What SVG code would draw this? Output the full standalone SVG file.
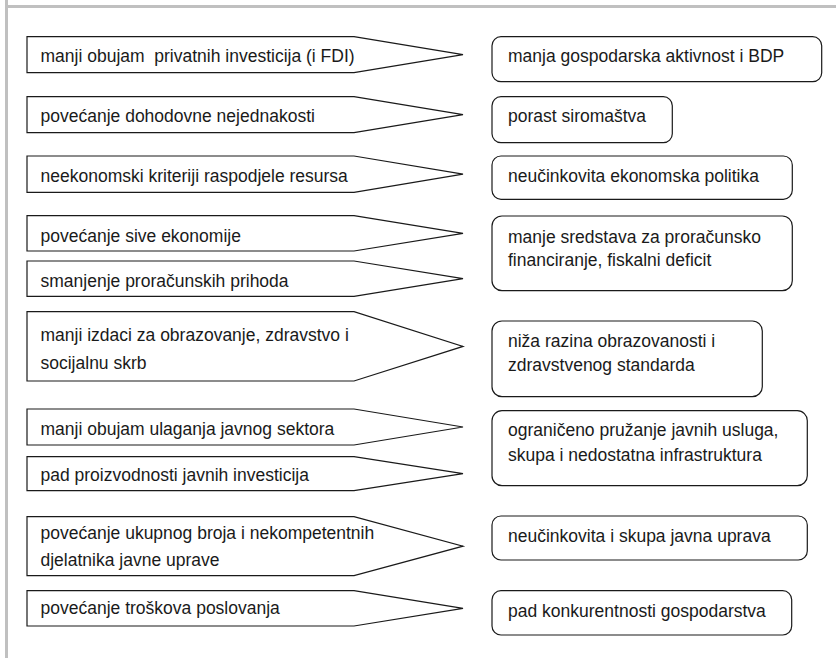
<svg xmlns="http://www.w3.org/2000/svg" width="836" height="658" viewBox="0 0 836 658">
<defs>
<style>
.frame{stroke:#c0c0c0;stroke-width:3;fill:none}
.pent{fill:#fff;stroke:#1a1a1a;stroke-width:1.2}
.box{fill:#fff;stroke:#1a1a1a;stroke-width:1.2}
text{font-family:"Liberation Sans",Arial,sans-serif;font-size:17.5px;fill:#1a1a1a}
</style>
</defs>
<rect width="836" height="658" fill="#fff"/>
<g id="frame">
<line class="frame" x1="6.5" y1="0" x2="6.5" y2="658"/>
<line class="frame" x1="5" y1="6.5" x2="836" y2="6.5"/>
</g>
<g id="causes">
<g id="c1"><polygon class="pent" points="27,36.7 354,36.7 463,54.7 354,72.7 27,72.7"/><text x="40.5" y="62" xml:space="preserve">manji obujam  privatnih investicija (i FDI)</text></g>
<g id="c2"><polygon class="pent" points="27,96.7 354,96.7 463,114.7 354,132.7 27,132.7"/><text x="40.5" y="122">povećanje dohodovne nejednakosti</text></g>
<g id="c3"><polygon class="pent" points="27,156 354,156 463,174.2 354,192.3 27,192.3"/><text x="40.5" y="182">neekonomski kriteriji raspodjele resursa</text></g>
<g id="c4"><polygon class="pent" points="27,215.7 354,215.7 463,233.4 354,251 27,251"/><text x="40.5" y="242">povećanje sive ekonomije</text></g>
<g id="c5"><polygon class="pent" points="27,261 354,261 463,278.7 354,296.3 27,296.3"/><text x="40.5" y="287">smanjenje proračunskih prihoda</text></g>
<g id="c6"><polygon class="pent" points="27,311.7 354,311.7 463,346.4 354,381 27,381"/><text x="40.5" y="341">manji izdaci za obrazovanje, zdravstvo i</text><text x="40.5" y="369">socijalnu skrb</text></g>
<g id="c7"><polygon class="pent" points="27,409 354,409 463,427 354,445 27,445"/><text x="40.5" y="435">manji obujam ulaganja javnog sektora</text></g>
<g id="c8"><polygon class="pent" points="27,456.7 354,456.7 463,473.7 354,490.7 27,490.7"/><text x="40.5" y="481">pad proizvodnosti javnih investicija</text></g>
<g id="c9"><polygon class="pent" points="27,516.7 354,516.7 463,546.2 354,575.7 27,575.7"/><text x="40.5" y="539">povećanje ukupnog broja i nekompetentnih</text><text x="40.5" y="566">djelatnika javne uprave</text></g>
<g id="c10"><polygon class="pent" points="27,590.7 354,590.7 463,608.4 354,626 27,626"/><text x="40.5" y="614">povećanje troškova poslovanja</text></g>
</g>
<g id="effects">
<g id="e1"><rect class="box" x="492" y="36.7" width="329.7" height="45" rx="9"/><text x="508" y="62">manja gospodarska aktivnost i BDP</text></g>
<g id="e2"><rect class="box" x="492" y="96.7" width="180.3" height="46" rx="9"/><text x="508" y="122">porast siromaštva</text></g>
<g id="e3"><rect class="box" x="492" y="156" width="300.3" height="43.3" rx="9"/><text x="508" y="182">neučinkovita ekonomska politika</text></g>
<g id="e4"><rect class="box" x="492" y="216" width="300.3" height="74.7" rx="10"/><text x="508" y="243">manje sredstava za proračunsko</text><text x="508" y="266">financiranje, fiskalni deficit</text></g>
<g id="e5"><rect class="box" x="492" y="321" width="270.3" height="75.7" rx="10"/><text x="508" y="347">niža razina obrazovanosti i</text><text x="508" y="371">zdravstvenog standarda</text></g>
<g id="e6"><rect class="box" x="492" y="410.7" width="315.3" height="75" rx="10"/><text x="508" y="436">ograničeno pružanje javnih usluga,</text><text x="508" y="461">skupa i nedostatna infrastruktura</text></g>
<g id="e7"><rect class="box" x="492" y="516" width="315.3" height="44" rx="9"/><text x="508" y="542">neučinkovita i skupa javna uprava</text></g>
<g id="e8"><rect class="box" x="492" y="590.7" width="299.7" height="44.3" rx="9"/><text x="508" y="617">pad konkurentnosti gospodarstva</text></g>
</g>
</svg>
